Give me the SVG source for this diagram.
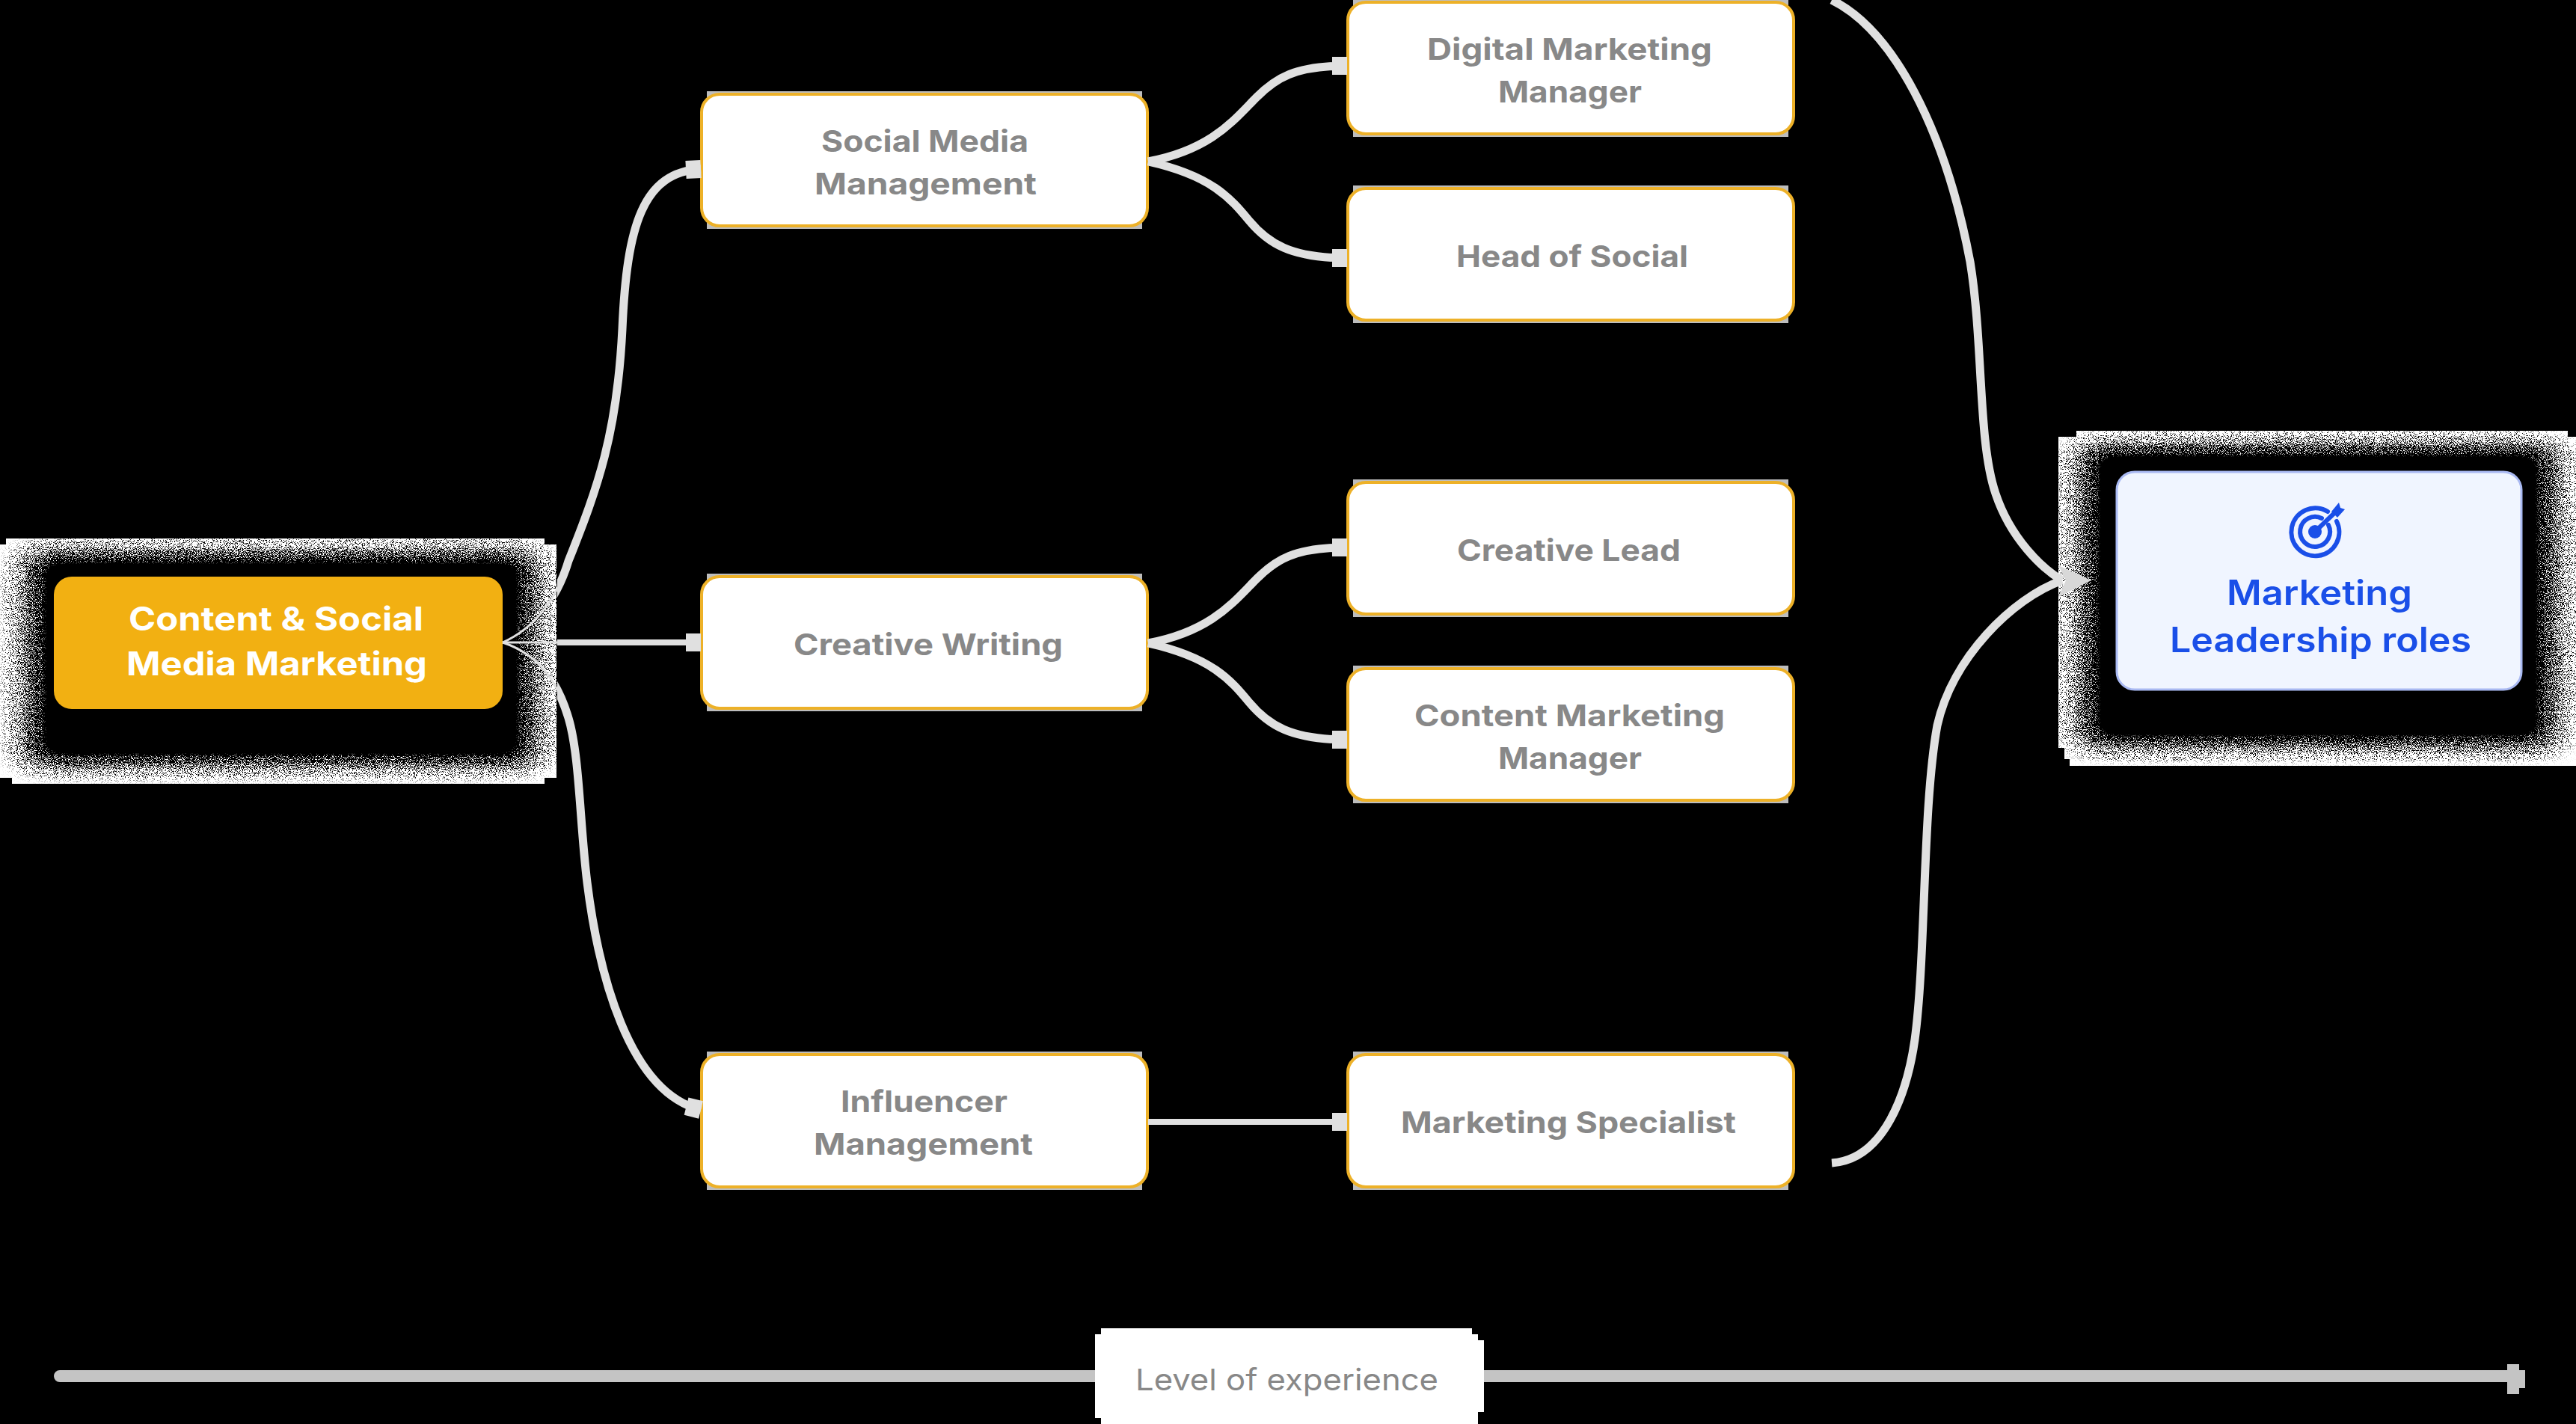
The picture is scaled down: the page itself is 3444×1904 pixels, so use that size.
<svg xmlns="http://www.w3.org/2000/svg" width="3444" height="1904" viewBox="0 0 3444 1904">
<style>
text{font-family:Inter,"Liberation Sans",sans-serif}
.role{fill:#888;font-size:40px;font-weight:700}
.hero{fill:#fff;font-size:44px;font-weight:700}
.goal{fill:#1a4fe8;font-size:46px;font-weight:600}
.axis{fill:#888;font-size:40px;font-weight:400}
.box{fill:#fff;stroke:#edb128;stroke-width:4}
.edge{fill:#bdbdbd}
.halo{fill:#fff}
.wire{fill:none;stroke:#e0e0e0;stroke-width:11}
.line{fill:none;stroke:#e0e0e0;stroke-width:8}
.fine{fill:none;stroke:#e0e0e0;stroke-width:3}
</style>
<defs>
<filter id="grain" x="-15%" y="-20%" width="130%" height="140%" color-interpolation-filters="sRGB">
<feGaussianBlur in="SourceAlpha" stdDeviation="20 12" result="b"/>
<feTurbulence type="fractalNoise" baseFrequency="0.9" numOctaves="2" seed="7" result="t"/>
<feColorMatrix in="t" type="matrix" values="0 0 0 0 0 0 0 0 0 0 0 0 0 0 0 4 0 0 0 -1.5" result="n"/>
<feComposite in="b" in2="n" operator="arithmetic" k1="0" k2="1.2" k3="1" k4="-1" result="c"/>
<feComponentTransfer in="c"><feFuncA type="linear" slope="10" intercept="0"/></feComponentTransfer>
</filter>
<marker id="cap" markerUnits="userSpaceOnUse" markerWidth="24" markerHeight="26" viewBox="0 0 24 26" refX="22" refY="13" orient="auto"><rect x="2" y="1" width="20" height="24" fill="#e0e0e0"/></marker>
<clipPath id="left"><rect x="0" y="0" width="745" height="1904"/></clipPath>
<clipPath id="right"><rect x="745" y="0" width="2699" height="1904"/></clipPath>
<path id="up" d="M672 859C715 840 745 800 760 750C800 650 825 580 832 440C838 300 860 230 937 226"/>
<path id="mid" d="M672 859H937"/>
<path id="down" d="M672 859C720 875 745 910 760 960C775 1010 775 1100 785 1180C800 1300 840 1460 937 1484"/>
</defs>
<rect width="3444" height="1904" fill="#000"/>

<g id="node-content-social">
<path class="halo" d="M8 720H728V728H744V1040H728V1048H16V1040H0V728H8Z"/>
<rect x="36" y="738" width="680" height="285" rx="20" fill="#000" filter="url(#grain)"/>
<rect x="72" y="771" width="600" height="177" rx="24" fill="#f2b012"/>
<text class="hero" x="172" y="843" textLength="394" lengthAdjust="spacingAndGlyphs">Content &amp; Social</text>
<text class="hero" x="169" y="903" textLength="402" lengthAdjust="spacingAndGlyphs">Media Marketing</text>
</g>

<g id="node-social-media">
<rect class="edge" x="945" y="122" width="582" height="184"/>
<rect class="box" x="938" y="126" width="596" height="176" rx="24"/>
<text class="role" x="1098" y="203" textLength="277" lengthAdjust="spacingAndGlyphs">Social Media</text>
<text class="role" x="1089" y="260" textLength="297" lengthAdjust="spacingAndGlyphs">Management</text>
</g>
<g id="node-creative-writing">
<rect class="edge" x="945" y="767" width="582" height="184"/>
<rect class="box" x="938" y="771" width="596" height="176" rx="24"/>
<text class="role" x="1061" y="876" textLength="360" lengthAdjust="spacingAndGlyphs">Creative Writing</text>
</g>
<g id="node-influencer">
<rect class="edge" x="945" y="1406" width="582" height="185"/>
<rect class="box" x="938" y="1410" width="596" height="177" rx="24"/>
<text class="role" x="1124" y="1487" textLength="223" lengthAdjust="spacingAndGlyphs">Influencer</text>
<text class="role" x="1088" y="1544" textLength="293" lengthAdjust="spacingAndGlyphs">Management</text>
</g>

<g id="node-digital">
<rect class="edge" x="1809" y="-1" width="582" height="184"/>
<rect class="box" x="1802" y="3" width="596" height="176" rx="24"/>
<text class="role" x="1908" y="80" textLength="381" lengthAdjust="spacingAndGlyphs">Digital Marketing</text>
<text class="role" x="2003" y="137" textLength="192" lengthAdjust="spacingAndGlyphs">Manager</text>
</g>
<g id="node-head-social">
<rect class="edge" x="1809" y="248" width="582" height="184"/>
<rect class="box" x="1802" y="252" width="596" height="176" rx="24"/>
<text class="role" x="1947" y="357" textLength="310" lengthAdjust="spacingAndGlyphs">Head of Social</text>
</g>
<g id="node-creative-lead">
<rect class="edge" x="1809" y="641" width="582" height="184"/>
<rect class="box" x="1802" y="645" width="596" height="176" rx="24"/>
<text class="role" x="1948" y="750" textLength="299" lengthAdjust="spacingAndGlyphs">Creative Lead</text>
</g>
<g id="node-content-manager">
<rect class="edge" x="1809" y="890" width="582" height="184"/>
<rect class="box" x="1802" y="894" width="596" height="176" rx="24"/>
<text class="role" x="1891" y="971" textLength="415" lengthAdjust="spacingAndGlyphs">Content Marketing</text>
<text class="role" x="2003" y="1028" textLength="192" lengthAdjust="spacingAndGlyphs">Manager</text>
</g>
<g id="node-specialist">
<rect class="edge" x="1809" y="1406" width="582" height="185"/>
<rect class="box" x="1802" y="1410" width="596" height="177" rx="24"/>
<text class="role" x="1873" y="1515" textLength="448" lengthAdjust="spacingAndGlyphs">Marketing Specialist</text>
</g>

<g id="node-leadership">
<path class="halo" d="M2776 576H3433V584H3444V1024H2767V1015H2760V1000H2752V584H2776Z"/>
<rect x="2782" y="595" width="634" height="403" rx="20" fill="#000" filter="url(#grain)"/>
<rect x="2830" y="631" width="541" height="291" rx="24" fill="#f0f5ff" stroke="#a9b9f2" stroke-width="3"/>
<g fill="none" stroke="#1a4fe8" stroke-width="6" stroke-linecap="round">
<path d="M3112 684A32 32 0 1 0 3124 697"/>
<path d="M3104 693A20 20 0 1 0 3113 702"/>
<path d="M3095 711L3122 685"/>
</g>
<circle cx="3095" cy="711" r="9" fill="#1a4fe8"/>
<path d="M3117 684L3127 672L3129 679L3135 681L3125 692Z" fill="#1a4fe8"/>
<text class="goal" x="2977" y="809" textLength="248" lengthAdjust="spacingAndGlyphs">Marketing</text>
<text class="goal" x="2901" y="872" textLength="403" lengthAdjust="spacingAndGlyphs">Leadership roles</text>
</g>

<g id="connectors">
<g clip-path="url(#left)">
<use href="#up" class="fine"/><use href="#mid" class="fine"/><use href="#down" class="fine"/>
</g>
<g clip-path="url(#right)">
<path class="wire" marker-end="url(#cap)" d="M672 859C715 840 745 800 760 750C800 650 825 580 832 440C838 300 860 230 937 226"/>
<path class="line" marker-end="url(#cap)" d="M672 859H937"/>
<path class="wire" marker-end="url(#cap)" d="M672 859C720 875 745 910 760 960C775 1010 775 1100 785 1180C800 1300 840 1460 937 1484"/>
</g>
<path class="wire" marker-end="url(#cap)" d="M1535 216C1620 200 1650 160 1680 130C1705 105 1730 88 1801 88"/>
<path class="wire" marker-end="url(#cap)" d="M1535 216C1620 235 1645 265 1670 295C1695 325 1725 345 1801 345"/>
<path class="wire" marker-end="url(#cap)" d="M1535 860C1620 844 1650 804 1680 774C1705 749 1730 732 1801 732"/>
<path class="wire" marker-end="url(#cap)" d="M1535 860C1620 879 1645 909 1670 939C1695 969 1725 989 1801 989"/>
<path class="line" marker-end="url(#cap)" d="M1535 1500H1801"/>
<path class="wire" d="M2449 0C2530 40 2600 170 2634 350C2652 460 2644 590 2668 660C2688 720 2730 760 2757 776"/>
<path class="wire" d="M2449 1555C2520 1550 2550 1460 2560 1390C2575 1280 2570 1080 2590 970C2610 880 2690 800 2757 776"/>
<path id="arrowhead" d="M2752 756L2796 776L2752 798L2762 776Z" fill="#d8d8d8"/>
</g>

<g id="axis">
<path d="M80 1832H3352V1824H3368V1832H3376V1856H3368V1864H3352V1848H80A8 8 0 0 1 80 1832Z" fill="#c4c4c4"/>
<path class="halo" d="M1472 1776H1968V1784H1976V1792H1984V1888H1976V1904H1472V1896H1464V1784H1472Z"/>
<text class="axis" x="1518" y="1859" textLength="405" lengthAdjust="spacingAndGlyphs">Level of experience</text>
</g>
</svg>
